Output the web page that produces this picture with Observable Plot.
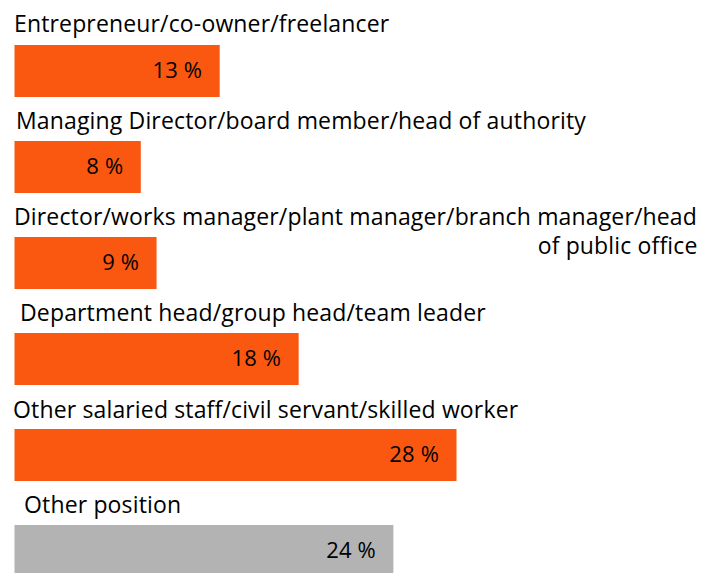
<!DOCTYPE html>
<html><head><meta charset="utf-8">
<script src="https://cdn.jsdelivr.net/npm/d3@7"></script>
<script src="https://cdn.jsdelivr.net/npm/@observablehq/plot@0.6"></script>
<style>body{margin:0;background:#fff}</style>
</head><body><div id="chart"></div>
<script>
const categories = [
  "Entrepreneur/co-owner/freelancer",
  "Managing Director/board member/head of authority",
  "Director/works manager/plant manager/branch manager/head of public office",
  "Department head/group head/team leader",
  "Other salaried staff/civil servant/skilled worker",
  "Other position"
];
const values = [13, 8, 9, 18, 28, 24];
const groups = ["position", "position", "position", "position", "position", "other"];
const valueLabels = values.map(v => `${v} %`);

const data = categories.map((c, i) => ({label: c, value: values[i], group: groups[i], text: valueLabels[i]}));

// wrap long labels: first line up to ~57 characters, remainder on a second line
const maxChars = 57;
function wrap(s) {
  if (s.length <= maxChars) return [s, ""];
  const cut = s.lastIndexOf(" ", maxChars);
  return [s.slice(0, cut), s.slice(cut + 1)];
}
// small per-row label nudges (style only)
const nudgeX = [-1, 1, -1, 5, -2, 9];
const nudgeY = [-1, 0, 0, 0, 1, 0];
const lines = data.map((d, i) => ({...d, line1: wrap(d.label)[0], line2: wrap(d.label)[1], nx: nudgeX[i], ny: nudgeY[i]}));

const font = "Open Sans, Lato, sans-serif";
const chart = Plot.plot({
  width: 709,
  height: 573,
  margin: 0,
  style: {fontFamily: font, background: "#fff", color: "#000", letterSpacing: "0.15px"},
  x: {domain: [0, 28], range: [14.5, 456.5], axis: null},
  y: {domain: categories, range: [43, 579], paddingInner: 0.463, paddingOuter: 0, axis: null},
  color: {domain: ["position", "other"], range: ["#FA5811", "#B3B3B3"]},
  marks: [
    Plot.barX(data, {x: "value", y: "label", fill: "group"}),
    Plot.text(data, {x: "value", y: "label", text: "text", textAnchor: "end", dx: -18, dy: -1, fontSize: 22, fill: "#000"}),
    ...lines.map(d => Plot.text([d], {x: 0, y: "label", text: "line1", textAnchor: "start", lineAnchor: "bottom", dx: d.nx, dy: -39 + d.ny, fontSize: 23, fill: "#000"})),
    Plot.text(lines.filter(d => d.line2), {frameAnchor: "right", y: "label", text: "line2", textAnchor: "end", lineAnchor: "bottom", dx: -12, dy: -10, fontSize: 23, fill: "#000"})
  ]
});
document.getElementById("chart").appendChild(chart);
</script>
</body></html>
